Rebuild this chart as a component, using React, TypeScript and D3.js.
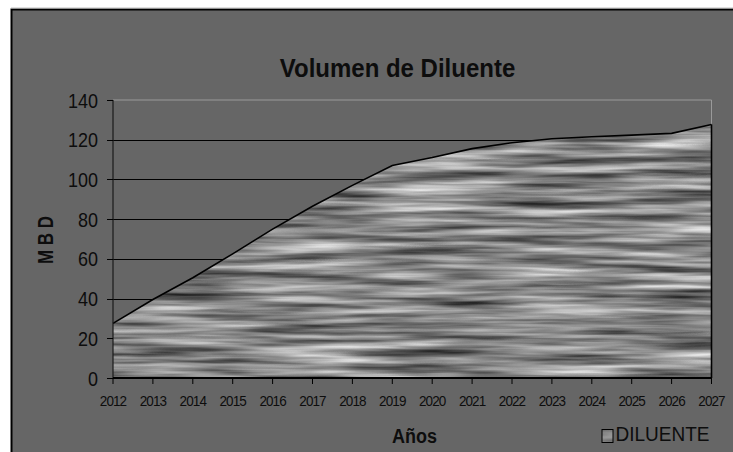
import React from 'react';
import * as d3 from 'd3';

const years = ['2012','2013','2014','2015','2016','2017','2018','2019','2020','2021','2022','2023','2024','2025','2026','2027'];
const diluente = [27.5, 39.5, 50.5, 62.5, 75, 86.5, 97, 107, 111, 115.5, 118.5, 120.5, 121.5, 122.3, 123.2, 127.7];
const yTicks = [0, 20, 40, 60, 80, 100, 120, 140];
const title = 'Volumen de Diluente';
const xTitle = 'Años';
const yTitle = 'M B D';
const seriesName = 'DILUENTE';

const W = 733, H = 452;
const L = 113, R = 711.5, T = 100, B = 378;

function T2({ x, y, sy, children, ...rest }: any) {
  return (
    <text transform={`translate(${x},${y}) scale(1,${sy})`} {...rest}>{children}</text>
  );
}

export default function App() {
  const x = d3.scalePoint<string>().domain(years).range([L, R]);
  const y = d3.scaleLinear().domain([0, 140]).range([B, T]);
  const data = years.map((yr, i) => ({ yr, v: diluente[i] }));
  const area = d3.area<{ yr: string; v: number }>()
    .x(d => x(d.yr) as number)
    .y0(y(0))
    .y1(d => y(d.v));
  const line = d3.line<{ yr: string; v: number }>()
    .x(d => x(d.yr) as number)
    .y(d => y(d.v));
  const areaPath = area(data) as string;
  const matrix = '1.05 0 0 0 0.0  1.05 0 0 0 0.0  1.05 0 0 0 0.0  0 0 0 0 1';
  const matrix2 = '0.6 0 0 0 0.22  0.6 0 0 0 0.22  0.6 0 0 0 0.22  0 0 0 0 1';
  const font = '"Liberation Sans", Arial, sans-serif';
  const ink = '#0d0d0d';
  return (
    <svg width={W} height={H} style={{ position: 'absolute', left: 0, top: 0 }} fontFamily={font}>
      <defs>
        <filter id="wood" filterUnits="userSpaceOnUse" x={L} y={T - 5} width={R - L + 2} height={B - T + 10} colorInterpolationFilters="sRGB">
          <feTurbulence type="fractalNoise" baseFrequency="0.008 0.14" numOctaves={3} seed={7} />
          <feColorMatrix type="matrix" values={matrix} />
        </filter>
        <filter id="wood2" filterUnits="userSpaceOnUse" x={600} y={428} width={15} height={17} colorInterpolationFilters="sRGB">
          <feTurbulence type="fractalNoise" baseFrequency="0.02 0.12" numOctaves={2} seed={2} />
          <feColorMatrix type="matrix" values={matrix2} />
        </filter>
        <clipPath id="areaClip">
          <path d={areaPath} />
        </clipPath>
        <clipPath id="legClip">
          <rect x={602} y={429.5} width={11} height={13} />
        </clipPath>
      </defs>
      <rect x={0} y={0} width={W} height={H} fill="#ffffff" />
      <rect x={11.5} y={9.5} width={900} height={600} fill="#666666" stroke="#000" strokeWidth={2} />
      <line x1={11} x2={W} y1={8.2} y2={8.2} stroke="#9a9a9a" strokeWidth={1} />

      {/* title */}
      <T2 x={397.5} y={77} sy={1.1} textAnchor="middle" fontSize={24} fontWeight="bold" fill={ink}>{title}</T2>

      {/* plot border (light) */}
      <line x1={L} x2={R} y1={y(140)} y2={y(140)} stroke="#9a9a9a" strokeWidth={1} />
      <line x1={R} x2={R} y1={T} y2={B} stroke="#9a9a9a" strokeWidth={1} />

      {/* gridlines */}
      {yTicks.filter(t => t > 0 && t < 140).map(t => (
        <line key={t} x1={L} x2={R} y1={Math.round(y(t)) + 0.5} y2={Math.round(y(t)) + 0.5} stroke="#000" strokeWidth={1} />
      ))}

      {/* area with texture */}
      <g clipPath="url(#areaClip)">
        <rect x={L} y={T - 5} width={R - L + 2} height={B - T + 10} filter="url(#wood)" />
      </g>
      <path d={line(data) as string} fill="none" stroke="#000" strokeWidth={1.6} />
      <line x1={R} x2={R} y1={y(diluente[diluente.length - 1])} y2={B} stroke="#000" strokeWidth={1.6} />

      {/* y axis */}
      <line x1={L} x2={L} y1={T} y2={B} stroke="#1a1a1a" strokeWidth={1.2} />
      {yTicks.map(t => (
        <g key={t}>
          <line x1={L - 6} x2={L} y1={Math.round(y(t)) + 0.5} y2={Math.round(y(t)) + 0.5} stroke="#000" strokeWidth={1} />
          <T2 x={98} y={y(t) + 7.5} sy={1.15} textAnchor="end" fontSize={18} fill={ink}>{t}</T2>
        </g>
      ))}

      {/* x axis */}
      <line x1={L} x2={R} y1={B} y2={B} stroke="#000" strokeWidth={2} />
      {years.map(yr => (
        <g key={yr}>
          <line x1={x(yr) as number} x2={x(yr) as number} y1={B} y2={B + 6} stroke="#000" strokeWidth={1} />
          <T2 x={x(yr) as number} y={406} sy={1.12} textAnchor="middle" fontSize={13.5} letterSpacing={-0.9} fill={ink}>{yr}</T2>
        </g>
      ))}

      {/* axis titles */}
      <T2 x={414.5} y={443} sy={1.12} textAnchor="middle" fontSize={18} fontWeight="bold" fill={ink}>{xTitle}</T2>
      <text transform={`translate(53,240) rotate(-90) scale(1,1.25)`} textAnchor="middle" fontSize={17} fontWeight="bold" fill={ink}>{yTitle}</text>

      {/* legend */}
      <g clipPath="url(#legClip)">
        <rect x={600} y={428} width={15} height={17} filter="url(#wood2)" />
      </g>
      <rect x={602} y={429.5} width={11} height={13} fill="none" stroke="#000" strokeWidth={1} />
      <T2 x={615.5} y={441} sy={1.05} fontSize={19} fill={ink}>{seriesName}</T2>
    </svg>
  );
}
